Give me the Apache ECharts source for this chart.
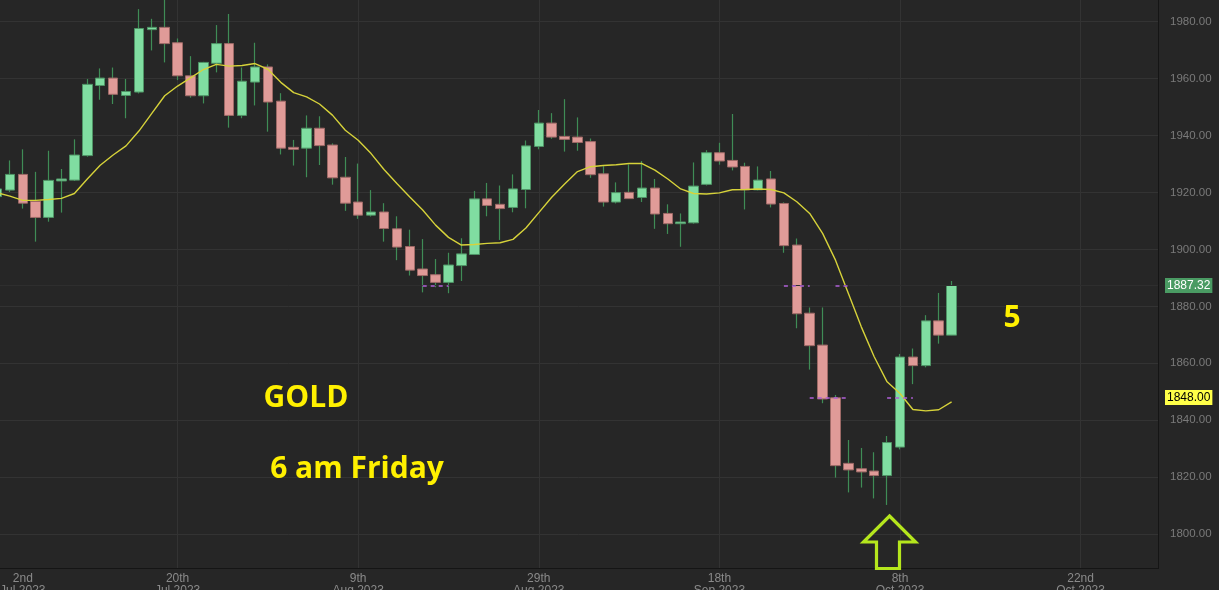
<!DOCTYPE html>
<html>
<head>
<meta charset="utf-8">
<script src="https://cdn.jsdelivr.net/npm/echarts@6/dist/echarts.min.js"></script>
<style>
html,body{margin:0;padding:0;background:#262626;}
#chart{width:1219px;height:590px;}
</style>
</head>
<body>
<div id="chart"></div>
<script>
// Trading-day categories (Jul 3 2023 onward), incl. empty future slots
const categories = [
 '07-03','07-04','07-05','07-06','07-07','07-10','07-11','07-12','07-13','07-14','07-17','07-18','07-19','07-20','07-21','07-24','07-25','07-26','07-27','07-28','07-31',
 '08-01','08-02','08-03','08-04','08-07','08-08','08-09','08-10','08-11','08-14','08-15','08-16','08-17','08-18','08-21','08-22','08-23','08-24','08-25','08-28','08-29','08-30','08-31',
 '09-01','09-04','09-05','09-06','09-07','09-08','09-11','09-12','09-13','09-14','09-15','09-18','09-19','09-20','09-21','09-22','09-25','09-26','09-27','09-28','09-29',
 '10-02','10-03','10-04','10-05','10-06','10-09','10-10','10-11','10-12','10-13',
 '10-16','10-17','10-18','10-19','10-20','10-23','10-24','10-25','10-26','10-27','10-30','10-31',
 '11-01','11-02','11-03','11-06'
];
const openVals = [1918.5,1920.8,1926.3,1916.8,1911.2,1924.0,1924.3,1932.9,1957.5,1960.1,1954.0,1955.2,1977.1,1977.9,1972.5,1960.9,1953.9,1965.3,1972.2,1947.0,
 1958.7,1964.0,1952.0,1935.8,1935.5,1942.5,1936.6,1925.3,1916.6,1912.0,1913.1,1907.2,1901.0,1893.1,1891.1,1888.4,1894.3,1898.2,1917.7,1915.8,
 1914.7,1921.0,1936.1,1944.3,1939.6,1939.4,1937.8,1926.5,1916.6,1920.0,1918.2,1921.5,1912.6,1909.0,1909.3,1922.8,1933.9,1931.2,1929.1,1920.9,
 1924.7,1916.1,1901.5,1877.6,1866.4,1847.9,1824.9,1823.0,1822.2,1820.6,1830.6,1862.2,1859.2,1874.9,1869.9];
const closeVals = [1921.2,1926.3,1916.2,1911.2,1924.2,1924.7,1933.1,1957.9,1960.1,1954.4,1955.4,1977.5,1977.9,1972.2,1960.9,1953.9,1965.6,1972.2,1947.0,1959.0,
 1964.0,1951.7,1935.5,1935.1,1942.5,1936.4,1925.1,1916.2,1912.0,1913.1,1907.3,1900.8,1892.7,1890.8,1888.4,1894.5,1898.4,1917.7,1915.4,1914.3,
 1921.2,1936.3,1944.3,1939.4,1938.6,1937.5,1926.2,1916.6,1919.9,1917.8,1921.5,1912.4,1909.0,1909.6,1922.2,1933.9,1931.0,1928.9,1920.9,1924.3,
 1915.9,1901.3,1877.4,1866.2,1847.5,1824.1,1822.6,1821.9,1820.6,1832.2,1862.2,1859.2,1874.9,1869.9,1887.32];
const lowVals = [1917.0,1920.1,1914.3,1902.7,1909.7,1912.9,1924.0,1932.5,1952.5,1951.0,1946.0,1954.7,1969.8,1965.6,1959.4,1953.2,1951.2,1962.1,1942.7,1946.0,
 1950.5,1941.3,1933.3,1929.4,1925.3,1929.6,1922.7,1913.5,1910.7,1911.5,1902.7,1896.2,1890.8,1884.9,1886.7,1884.6,1888.9,1898.0,1911.6,1903.3,
 1913.0,1914.4,1935.1,1938.8,1934.3,1934.6,1925.1,1915.0,1916.1,1917.7,1916.6,1907.2,1905.4,1900.9,1909.0,1922.4,1929.7,1927.7,1914.0,1920.7,
 1914.7,1898.8,1872.3,1857.8,1846.0,1819.9,1814.7,1816.4,1812.6,1810.3,1829.8,1852.7,1858.6,1866.9,1869.9];
const highVals = [1923.0,1931.2,1935.1,1927.2,1934.6,1928.2,1938.6,1959.8,1963.5,1963.8,1959.8,1984.3,1980.9,1990.0,1974.0,1967.8,1965.8,1978.7,1982.6,1963.8,
 1972.5,1964.9,1954.8,1938.4,1947.0,1946.7,1937.2,1932.4,1930.1,1920.8,1916.2,1911.6,1906.9,1903.6,1896.6,1898.8,1903.9,1920.5,1923.3,1922.4,
 1926.3,1938.2,1948.9,1947.8,1952.7,1946.3,1938.9,1929.2,1923.5,1929.8,1931.0,1924.7,1915.8,1912.6,1930.5,1934.8,1937.4,1947.5,1930.4,1929.1,
 1927.5,1916.5,1903.8,1879.6,1879.6,1848.9,1833.1,1830.3,1828.8,1834.5,1863.3,1865.2,1876.9,1884.7,1888.9];
// moving average line
const maVals = [1919.9,1918.7,1917.2,1917.2,1917.5,1917.9,1919.6,1924.7,1929.5,1933.1,1936.3,1941.5,1947.7,1953.9,1957.3,1960.2,1963.1,1964.9,1964.3,1964.5,
 1965.2,1963.2,1958.6,1955.0,1953.5,1951.0,1947.1,1941.8,1938.3,1933.6,1928.0,1923.1,1918.4,1913.8,1908.5,1904.2,1901.5,1901.7,1902.1,1902.3,
 1903.5,1907.5,1912.9,1918.3,1922.9,1927.3,1929.0,1929.4,1929.7,1930.1,1930.1,1927.8,1924.7,1921.2,1919.6,1919.4,1919.8,1920.9,1921.0,1921.2,
 1921.0,1919.8,1916.7,1912.6,1905.6,1896.2,1884.5,1872.8,1862.3,1853.5,1849.4,1843.8,1843.3,1843.7,1846.5];
// x tick labels (category -> text); first one has no grid line
const tickCats = ['07-05','07-21','08-10','08-30','09-19','10-09','10-27'];
const tickLabels = ['2nd\nJul 2023','20th\nJul 2023','9th\nAug 2023','29th\nAug 2023','18th\nSep 2023','8th\nOct 2023','22nd\nOct 2023'];
const gridCats = tickCats.slice(1);
const lastPrice = 1887.32;
const levelPrice = 1848.00;
// short purple dashed level pieces visible in the picture [fromCat, toCat, value]
const purpleSegs = [[32.55, 35.2, 1887.32], [61.2, 62.5, 1887.32], [65.2, 65.6, 1887.32], [63.3, 65.5, 1848.0], [69.4, 70.6, 1848.0]];

const wickData = openVals.map((o, i) => [o, closeVals[i], lowVals[i], highVals[i]]);
const bodyData = openVals.map((o, i) => [o, closeVals[i], Math.min(o, closeVals[i]), Math.max(o, closeVals[i])]);

const chart = echarts.init(document.getElementById('chart'), null, {renderer: 'canvas'});
const option = {
  backgroundColor: '#262626',
  animation: false,
  grid: {left: -3, right: 61, top: 0, bottom: 21.5, containLabel: false, outerBoundsMode: 'none'},
  xAxis: {
    type: 'category', data: categories, boundaryGap: false,
    axisLine: {show: true, lineStyle: {color: '#151515', width: 1}},
    axisTick: {show: false},
    axisLabel: {
      interval: (idx, val) => tickCats.indexOf(val) >= 0,
      formatter: (val) => { const k = tickCats.indexOf(val); return k >= 0 ? tickLabels[k] : ''; },
      color: '#8a8a8a', fontSize: 12, lineHeight: 12, margin: 4,
      fontFamily: 'Liberation Sans, Arial, sans-serif'
    },
    splitLine: {show: true, interval: (idx, val) => gridCats.indexOf(val) >= 0, lineStyle: {color: '#333333', width: 1}}
  },
  yAxis: {
    type: 'value', position: 'right', min: 1788, max: 1987.5, splitNumber: 10,
    axisLine: {show: true, lineStyle: {color: '#151515'}},
    axisTick: {show: false},
    axisLabel: {
      formatter: (v) => v.toFixed(2), color: '#7a7a7a', fontSize: 11.5, margin: 12,
      showMinLabel: false, showMaxLabel: false, fontFamily: 'Liberation Sans, Arial, sans-serif'
    },
    splitLine: {showMinLine: false, showMaxLine: false, lineStyle: {color: '#333333', width: 1}}
  },
  series: [
    {
      name: 'wick', type: 'candlestick', data: wickData, barWidth: 0.01, z: 2,
      itemStyle: {color: '#3f8c56', color0: '#3f8c56', borderColor: '#3f8c56', borderColor0: '#3f8c56', borderWidth: 1.2}
    },
    {
      name: 'GOLD', type: 'candlestick', data: bodyData, barWidth: 10, z: 3,
      itemStyle: {color: '#80dda1', color0: '#e09b98', borderColor: '#4f9466', borderColor0: '#9e6a67', borderWidth: 1},
      markLine: {
        silent: true, symbol: 'none', animation: false,
        data: [
          {yAxis: lastPrice, lineStyle: {color: '#2e2e2e', type: 'solid', width: 1},
           label: {show: true, position: 'end', distance: 7, formatter: lastPrice.toFixed(2), color: '#ffffff',
                   backgroundColor: '#4a9b63', padding: [2, 2, 1, 2], fontSize: 12, fontFamily: 'Liberation Sans, Arial, sans-serif'}},
          {yAxis: levelPrice, lineStyle: {color: 'rgba(0,0,0,0)', type: 'solid', width: 1},
           label: {show: true, position: 'end', distance: 7, formatter: levelPrice.toFixed(2), color: '#000000',
                   backgroundColor: '#ffff48', padding: [2, 2, 1, 2], fontSize: 12, fontFamily: 'Liberation Sans, Arial, sans-serif'}}
        ]
      }
    },
    {
      name: 'MA', type: 'line', data: maVals, showSymbol: false, symbol: 'none', z: 4,
      lineStyle: {color: '#d6d23a', width: 1.4},
      markLine: {
        silent: true, symbol: 'none', animation: false, label: {show: false},
        lineStyle: {color: '#b060d8', type: [4, 4], width: 1.5},
        data: purpleSegs.map(s => [{coord: [s[0], s[2]]}, {coord: [s[1], s[2]]}])
      }
    }
  ],
  graphic: [
    {type: 'text', z: 100, style: {text: 'GOLD', x: 306, y: 398, textAlign: 'center', textVerticalAlign: 'middle',
      font: 'bold 30px "Open Sans", sans-serif', fill: '#fff000'}},
    {type: 'text', z: 100, style: {text: '6 am Friday', x: 357, y: 469, textAlign: 'center', textVerticalAlign: 'middle',
      font: 'bold 30px "Open Sans", sans-serif', fill: '#fff000'}},
    {type: 'text', z: 100, style: {text: '5', x: 1012, y: 318, textAlign: 'center', textVerticalAlign: 'middle',
      font: 'bold 30px "Open Sans", sans-serif', fill: '#fff000'}},
    {type: 'polygon', z: 100, shape: {points: [[889.5, 516], [915.5, 542], [899.5, 542], [899.5, 568.5], [876.5, 568.5], [876.5, 542], [863.5, 542]]},
      style: {fill: 'none', stroke: '#b5e61d', lineWidth: 3.2, lineJoin: 'miter'}}
  ]
};
chart.setOption(option);
</script>
</body>
</html>
